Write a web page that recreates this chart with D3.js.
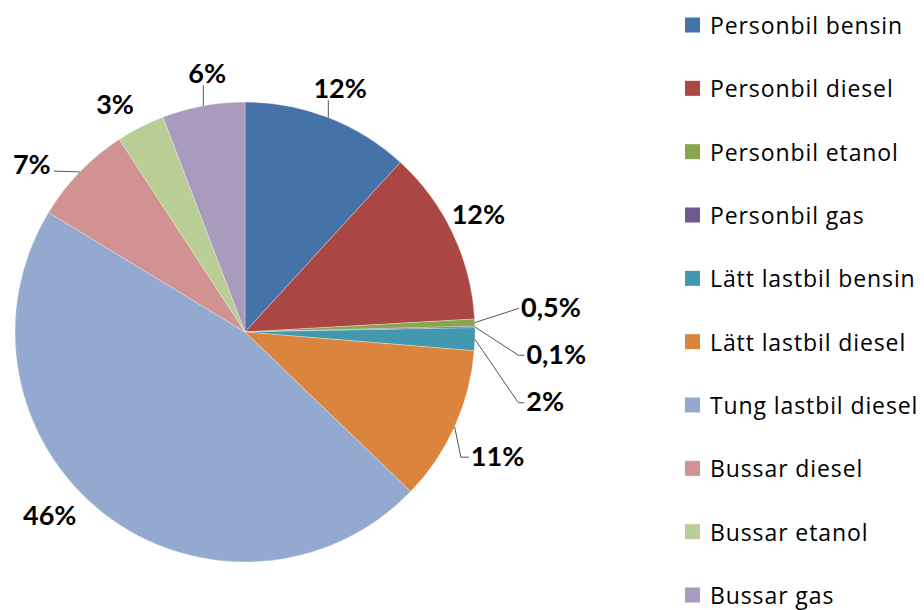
<!DOCTYPE html>
<html><head><meta charset="utf-8">
<script src="https://cdn.jsdelivr.net/npm/d3@7/dist/d3.min.js"></script>
<style>body{margin:0;background:#fff}svg{display:block}</style>
</head><body>
<svg id="chart" width="924" height="610"></svg>
<script>
const categories = ["Personbil bensin","Personbil diesel","Personbil etanol","Personbil gas","Lätt lastbil bensin","Lätt lastbil diesel","Tung lastbil diesel","Bussar diesel","Bussar etanol","Bussar gas"];
const values = [11.8, 12.3, 0.5, 0.1, 1.6, 10.9, 46.5, 7.1, 3.4, 5.8];
const labels = ["12%","12%","0,5%","0,1%","2%","11%","46%","7%","3%","6%"];
const colors = ["#4572A7","#AA4643","#89A54E","#71588F","#4198AF","#DB843D","#93A9CF","#D19392","#B9CD96","#A99BBD"];

// label placement (polar: angle in degrees clockwise from top, radius) and leader style
const labelLayout = [
  {a:21.3, r:262, leader:"bottom"},
  {a:63,   r:262, leader:null},
  {a:85.2, r:307, leader:"left", elbow:false},
  {a:93.9, r:312, leader:"left", elbow:true},
  {a:102.9,r:308, leader:"left", elbow:true},
  {a:116,  r:281, leader:"left", elbow:true, vertical:true},
  {a:227,  r:267, leader:null},
  {a:308.4,r:272, leader:"right"},
  {a:330.4,r:263, leader:null},
  {a:351.7,r:262, leader:"bottom"}
];

const svg = d3.select("#chart");
const cx = 245, cy = 332, R = 230;
const g = svg.append("g").attr("transform", `translate(${cx},${cy})`);
const pie = d3.pie().sort(null).value(d => d);
const arcs = pie(values);
const arc = d3.arc().innerRadius(0).outerRadius(R);
const color = d3.scaleOrdinal().domain(categories).range(colors);

g.selectAll("path.slice").data(arcs).join("path")
  .attr("class","slice")
  .attr("d", arc)
  .attr("fill", (d,i) => color(categories[i]))
  .attr("stroke", "#fff").attr("stroke-width", 0.3);

const pol = (deg, r) => { const t = deg*Math.PI/180; return [r*Math.sin(t), -r*Math.cos(t)]; };
const labelFont = "bold 27px Lato, 'Open Sans', sans-serif";

const lg = g.append("g");
arcs.forEach((d,i) => {
  const L = labelLayout[i];
  const [lx, ly] = pol(L.a, L.r);
  const t = lg.append("text")
    .attr("x", lx).attr("y", ly)
    .attr("text-anchor","middle").attr("dominant-baseline","central")
    .style("font", labelFont).attr("fill","#000")
    .text(labels[i]);
  if (!L.leader) return;
  const bb = t.node().getBBox();
  const mid = (d.startAngle + d.endAngle)/2 * 180/Math.PI;
  const [sx, sy] = pol(mid, R);
  let pts;
  if (L.leader === "bottom") {
    pts = [[sx, sy], [sx, bb.y + bb.height - 4]];
  } else if (L.leader === "right") {
    pts = [[sx, sy], [bb.x + bb.width + 3, ly + 8]];
  } else {
    const ex = bb.x - 2;
    const ey = ly + 2;
    if (L.vertical) pts = [[sx, sy], [ex - 8, ey], [ex, ey]];
    else if (L.elbow) pts = [[sx, sy], [ex - 6, ey], [ex, ey]];
    else pts = [[sx, sy], [ex, ey]];
  }
  lg.insert("path", "text").attr("d", d3.line()(pts))
    .attr("fill","none").attr("stroke","#555").attr("stroke-width",1);
});

// legend
const legendY = d3.scalePoint().domain(categories).range([25, 595]);
const leg = svg.append("g");
categories.forEach((c,i) => {
  const y = legendY(c);
  leg.append("rect").attr("x",685).attr("y",y-7.5).attr("width",15).attr("height",15).attr("fill",color(c));
  leg.append("text").attr("x",710).attr("y",y).attr("dominant-baseline","central")
    .style("font","23px 'Open Sans', sans-serif").style("letter-spacing","0.9px")
    .attr("fill","#000").text(c);
});
</script>
</body></html>
